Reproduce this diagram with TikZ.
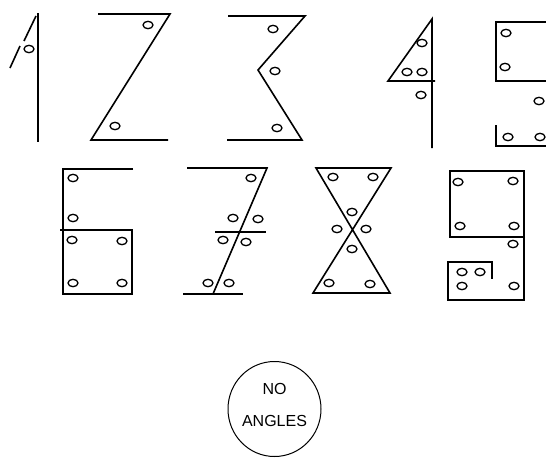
\documentclass[tikz,border=0pt]{standalone}
\usepackage{fontspec}
\newfontfamily\labelfont{Liberation Sans}

\begin{document}
\begin{tikzpicture}[
  x=1pt, y=-1pt,
  stroke/.style={line width=1.6pt, line join=miter},
  hole/.style={line width=1.3pt},
  oval/.style={line width=1pt}
]
\useasboundingbox (0,0) rectangle (546,459);
\clip (0,0) rectangle (546,459);

% one
\draw[stroke] (38,13) -- (38,142);
\draw[stroke] (36,16) -- (24,41);
\draw[stroke] (20,46) -- (10,68);
\draw[hole] (29,49) ellipse (5 and 3.7);

% two
\draw[stroke] (98,14) -- (170,14) -- (91,140) -- (168,140);
\draw[hole] (148,25) ellipse (5 and 3.7);
\draw[hole] (115,126) ellipse (5 and 3.7);

% three
\draw[stroke] (228,16) -- (305,16) -- (258,70) -- (302,140) -- (227,140);
\draw[hole] (273,29) ellipse (5 and 3.7);
\draw[hole] (275,71) ellipse (5 and 3.7);
\draw[hole] (277,128) ellipse (5 and 3.7);

% four
\draw[stroke] (432,148) -- (432,19) -- (388,81) -- (435,81);
\draw[hole] (422,43) ellipse (5 and 3.7);
\draw[hole] (407,72) ellipse (5 and 3.7);
\draw[hole] (422,72) ellipse (5 and 3.7);
\draw[hole] (421,95) ellipse (5 and 3.7);

% five (runs off the right edge)
\draw[stroke] (560,22) -- (496,22) -- (496,81) -- (560,81);
\draw[stroke] (496,125) -- (496,146) -- (560,146);
\draw[hole] (506,33) ellipse (5 and 3.7);
\draw[hole] (505,67) ellipse (5 and 3.7);
\draw[hole] (539,101) ellipse (5 and 3.7);
\draw[hole] (508,137) ellipse (5 and 3.7);
\draw[hole] (540,137) ellipse (5 and 3.7);

% six
\draw[stroke] (133,169) -- (63,169) -- (63,294) -- (132,294) -- (132,230) -- (60,230);
\draw[hole] (73,178) ellipse (5 and 3.7);
\draw[hole] (73,218) ellipse (5 and 3.7);
\draw[hole] (72,240) ellipse (5 and 3.7);
\draw[hole] (122,241) ellipse (5 and 3.7);
\draw[hole] (73,283) ellipse (5 and 3.7);
\draw[hole] (122,283) ellipse (5 and 3.7);

% seven
\draw[stroke] (187,168) -- (267,168) -- (213,294);
\draw[stroke] (215,232) -- (266,232);
\draw[stroke] (183,294) -- (243,294);
\draw[hole] (251,178) ellipse (5 and 3.7);
\draw[hole] (233,218) ellipse (5 and 3.7);
\draw[hole] (258,219) ellipse (5 and 3.7);
\draw[hole] (223,240) ellipse (5 and 3.7);
\draw[hole] (246,242) ellipse (5 and 3.7);
\draw[hole] (208,283) ellipse (5 and 3.7);
\draw[hole] (229,283) ellipse (5 and 3.7);

% eight
\draw[stroke] (316,168) -- (391,168) -- (313,293) -- (390,293) -- cycle;
\draw[hole] (333,177) ellipse (5 and 3.7);
\draw[hole] (373,177) ellipse (5 and 3.7);
\draw[hole] (352,212) ellipse (5 and 3.7);
\draw[hole] (337,229) ellipse (5 and 3.7);
\draw[hole] (366,229) ellipse (5 and 3.7);
\draw[hole] (352,249) ellipse (5 and 3.7);
\draw[hole] (329,283) ellipse (5 and 3.7);
\draw[hole] (370,284) ellipse (5 and 3.7);

% nine
\draw[stroke] (525,237) -- (450,237) -- (450,171) -- (524,171) -- (524,300) -- (448,300) -- (448,262) -- (492,262) -- (492,279);
\draw[hole] (458,182) ellipse (5 and 3.7);
\draw[hole] (513,181) ellipse (5 and 3.7);
\draw[hole] (460,226) ellipse (5 and 3.7);
\draw[hole] (514,226) ellipse (5 and 3.7);
\draw[hole] (513,244) ellipse (5 and 3.7);
\draw[hole] (462,272) ellipse (5 and 3.7);
\draw[hole] (480,272) ellipse (5 and 3.7);
\draw[hole] (462,286) ellipse (5 and 3.7);
\draw[hole] (514,286) ellipse (5 and 3.7);

% badge
\draw[oval] (274.5,409) ellipse (46.5 and 47.5);
\node[align=center, font=\labelfont\fontsize{16}{32}\selectfont] (badge) at (274.5,405) {NO\\ANGLES};
\end{tikzpicture}
\end{document}
